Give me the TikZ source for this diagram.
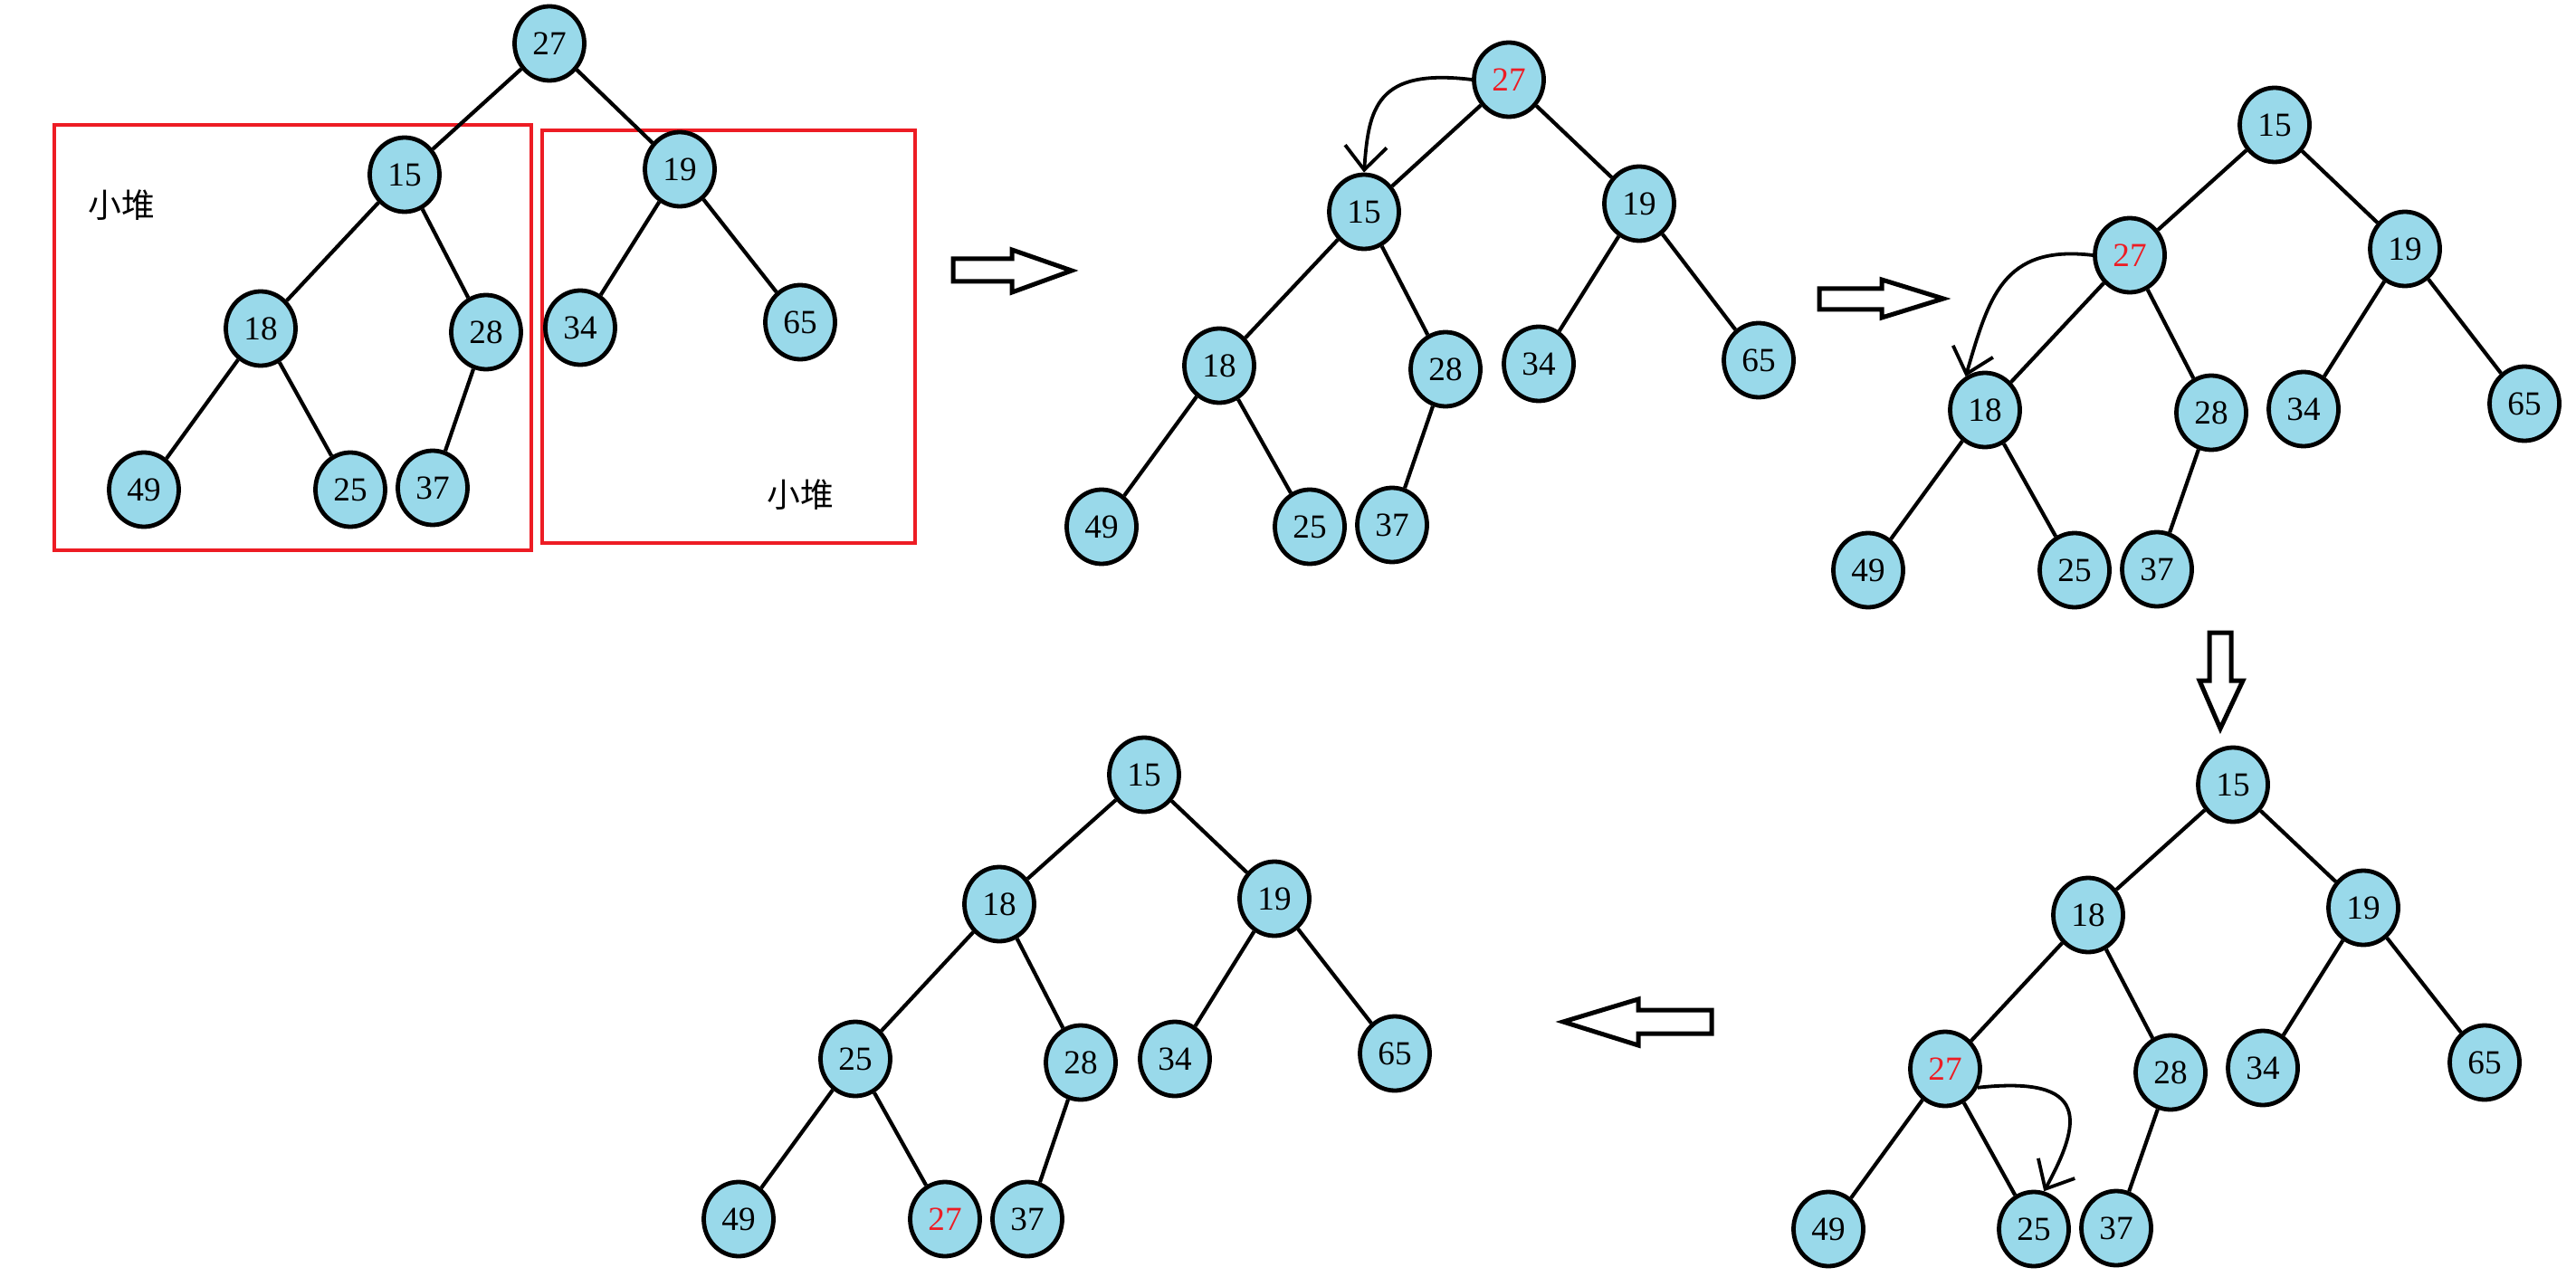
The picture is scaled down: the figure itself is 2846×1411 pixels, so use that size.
\documentclass[tikz,border=0pt]{standalone}
\usepackage{fontspec}
\setmainfont{Liberation Serif}
\newfontfamily\cjk{Noto Sans CJK SC}
\usetikzlibrary{shapes.geometric,arrows.meta}
\definecolor{nodefill}{RGB}{153,217,234}
\definecolor{paintred}{RGB}{237,28,36}

\begin{document}
\begin{tikzpicture}
[x=0.25pt,y=-0.25pt,font=\fontsize{9.3}{10}\selectfont,
nn/.style={ellipse,fill=nodefill,draw=black,line width=1.2pt,inner sep=0pt,minimum width=19.25pt,minimum height=20.5pt},
tr/.style={line width=1.05pt},
mv/.style={line width=0.95pt,-{Straight Barb[length=6.5pt,width=11.5pt]}},
redbox/.style={draw=paintred,line width=1pt},
hollow/.style={draw=black,line width=1.25pt,fill=white,line join=miter},
lbl/.style={font=\cjk\fontsize{9.2}{10}\selectfont}]
\useasboundingbox (0,0) rectangle (2846,1411);
%%%%% STEP 1
\draw[redbox] (60,138) rectangle (587,608);
\draw[redbox] (599,144) rectangle (1011,600);
\node[lbl] (lbl1) at (134,227) {小堆};
\node[lbl] (lbl2) at (884,547) {小堆};
\foreach \v/\x/\y/\c in {27/607/48/black,15/447/193/black,19/751/187/black,18/288/363/black,28/537/367/black,34/641/362/black,65/884/356/black,49/159/541/black,25/387/541/black,37/478/539/black}
	\node[nn,text=\c] (a\v) at (\x,\y) {\v};
\foreach \p/\q in {27/15,27/19,15/18,15/28,19/34,19/65,18/49,18/25,28/37}
	\draw[tr] (a\p) -- (a\q);
\draw[hollow] (1053,286) -- (1118,286) -- (1118,276) -- (1184,299) -- (1118,323) -- (1118,311) -- (1053,311) -- cycle;
%%%%% STEP 2
\foreach \v/\x/\y/\c in {27/1667/88/paintred,15/1507/234/black,19/1811/225/black,18/1347/404/black,28/1597/408/black,34/1700/402/black,65/1943/398/black,49/1217/582/black,25/1447/582/black,37/1538/580/black}
	\node[nn,text=\c] (b\v) at (\x,\y) {\v};
\foreach \p/\q in {27/15,27/19,15/18,15/28,19/34,19/65,18/49,18/25,28/37}
	\draw[tr] (b\p) -- (b\q);
\draw[mv] (b27.west) .. controls (1520,75) and (1512,120) .. (b15.north);
\draw[hollow] (2010,319) -- (2079,319) -- (2079,309) -- (2147,330) -- (2079,351) -- (2079,342) -- (2010,342) -- cycle;
%%%%% STEP 3
\foreach \v/\x/\y/\c in {15/2513/138/black,27/2353/282/paintred,19/2657/275/black,18/2193/453/black,28/2443/456/black,34/2545/452/black,65/2789/446/black,49/2064/630/black,25/2292/630/black,37/2383/629/black}
	\node[nn,text=\c] (c\v) at (\x,\y) {\v};
\foreach \p/\q in {15/27,15/19,27/18,27/28,19/34,19/65,18/49,18/25,28/37}
	\draw[tr] (c\p) -- (c\q);
\draw[mv] (c27.west) .. controls (2212,270) and (2197,330) .. (c18.120);
\draw[hollow] (2441,699) -- (2465,699) -- (2465,752) -- (2478,752) -- (2453,805) -- (2430,752) -- (2441,752) -- cycle;
%%%%% STEP 4
\foreach \v/\x/\y/\c in {15/2467/867/black,18/2307/1011/black,19/2611/1003/black,27/2149/1181/paintred,28/2398/1185/black,34/2500/1180/black,65/2745/1174/black,49/2020/1358/black,25/2247/1358/black,37/2338/1357/black}
	\node[nn,text=\c] (d\v) at (\x,\y) {\v};
\foreach \p/\q in {15/18,15/19,18/27,18/28,19/34,19/65,27/49,27/25,28/37}
	\draw[tr] (d\p) -- (d\q);
\draw[mv] (d27.-30) .. controls (2310,1188) and (2300,1240) .. (d25.75);
\draw[hollow] (1891,1116) -- (1810,1116) -- (1810,1104) -- (1727,1129) -- (1810,1155) -- (1810,1142) -- (1891,1142) -- cycle;
%%%%% STEP 5
\foreach \v/\x/\y/\c in {15/1264/856/black,18/1104/999/black,19/1408/993/black,25/945/1170/black,28/1194/1174/black,34/1298/1170/black,65/1541/1164/black,49/816/1347/black,27/1044/1347/paintred,37/1135/1347/black}
	\node[nn,text=\c] (e\v) at (\x,\y) {\v};
\foreach \p/\q in {15/18,15/19,18/25,18/28,19/34,19/65,25/49,25/27,28/37}
	\draw[tr] (e\p) -- (e\q);
\end{tikzpicture}
\end{document}
